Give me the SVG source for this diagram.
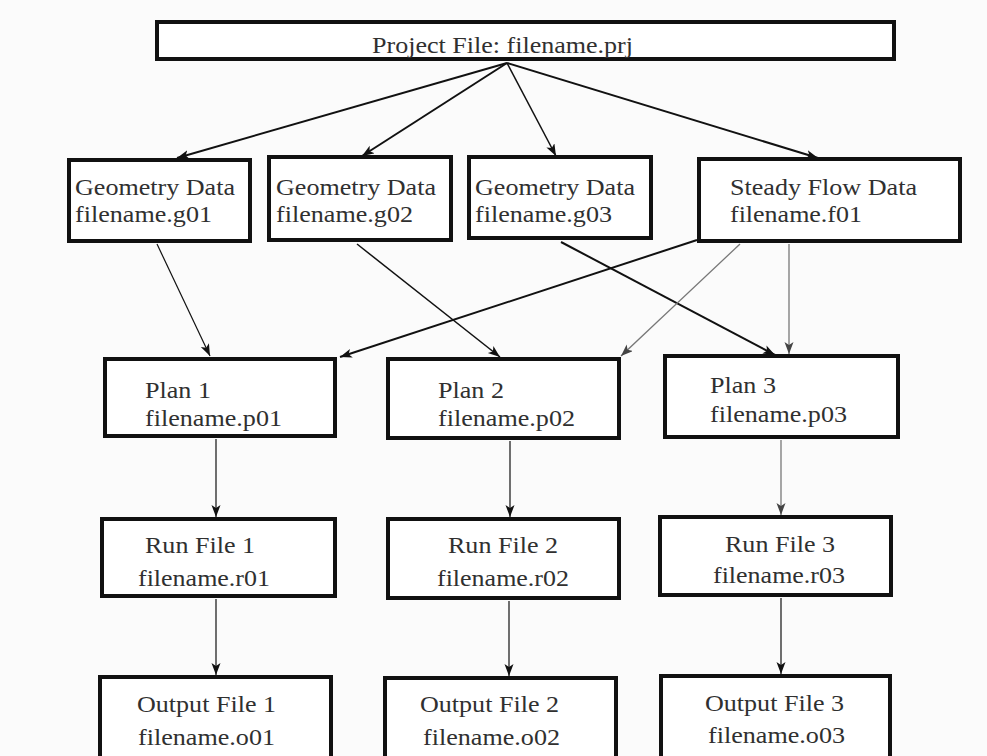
<svg xmlns="http://www.w3.org/2000/svg" width="987" height="756" viewBox="0 0 987 756">
<style>
.box{fill:#ffffff;stroke:#111;stroke-width:4}
.t{font-family:"Liberation Serif","Times New Roman",serif;font-size:23px;fill:#303030}
.c{fill:none;stroke:#111}
.th{stroke-width:2}
.md{stroke-width:1.5}
.tn{stroke-width:1.2}
.gr{stroke:#777;stroke-width:1.3}
</style>
<defs>
<marker id="ah" markerUnits="userSpaceOnUse" markerWidth="14" markerHeight="10" refX="12" refY="4.5" orient="auto">
<path d="M0,0 L12,4.5 L0,9 L3,4.5 z" fill="#111"/>
</marker>
<marker id="ahg" markerUnits="userSpaceOnUse" markerWidth="14" markerHeight="10" refX="12" refY="4.5" orient="auto">
<path d="M0,0 L12,4.5 L0,9 L3,4.5 z" fill="#444"/>
</marker>
</defs>
<rect x="0" y="0" width="987" height="756" fill="#fbfbfb"/>
<g id="connectors">
<line class="c th" x1="507" y1="63" x2="177" y2="158" marker-end="url(#ah)"/>
<line class="c th" x1="507" y1="63" x2="362" y2="156" marker-end="url(#ah)"/>
<line class="c md" x1="507" y1="63" x2="556" y2="156" marker-end="url(#ah)"/>
<line class="c th" x1="507" y1="63" x2="818" y2="158" marker-end="url(#ah)"/>
<line class="c tn" x1="157" y1="244" x2="210" y2="356" marker-end="url(#ah)"/>
<line class="c md" x1="357" y1="244" x2="500" y2="357" marker-end="url(#ah)"/>
<line class="c th" x1="561" y1="242" x2="775" y2="355" marker-end="url(#ah)"/>
<line class="c th" x1="697" y1="240" x2="340" y2="357" marker-end="url(#ah)"/>
<line class="c gr" x1="740" y1="244" x2="621" y2="356" marker-end="url(#ahg)"/>
<line class="c gr" x1="789" y1="244" x2="789" y2="354" marker-end="url(#ahg)"/>
<line class="c tn" x1="216" y1="439" x2="216" y2="517" marker-end="url(#ah)"/>
<line class="c tn" x1="510" y1="441" x2="510" y2="517" marker-end="url(#ah)"/>
<line class="c gr" x1="781" y1="440" x2="781" y2="515" marker-end="url(#ahg)"/>
<line class="c tn" x1="216" y1="599" x2="216" y2="675" marker-end="url(#ah)"/>
<line class="c tn" x1="509" y1="601" x2="509" y2="676" marker-end="url(#ah)"/>
<line class="c tn" x1="781" y1="598" x2="781" y2="674" marker-end="url(#ah)"/>
</g>
<g id="project">
<rect class="box" x="157" y="22" width="737" height="37"/>
<text class="t" x="372" y="53" textLength="261" lengthAdjust="spacingAndGlyphs">Project File: filename.prj</text>
</g>
<g id="geom1">
<rect class="box" x="69" y="160" width="181" height="81"/>
<text class="t" x="75" y="195" textLength="160" lengthAdjust="spacingAndGlyphs">Geometry Data</text>
<text class="t" x="75" y="222" textLength="137" lengthAdjust="spacingAndGlyphs">filename.g01</text>
</g>
<g id="geom2">
<rect class="box" x="269" y="157" width="182" height="83"/>
<text class="t" x="276" y="195" textLength="160" lengthAdjust="spacingAndGlyphs">Geometry Data</text>
<text class="t" x="276" y="222" textLength="137" lengthAdjust="spacingAndGlyphs">filename.g02</text>
</g>
<g id="geom3">
<rect class="box" x="469" y="157" width="182" height="81"/>
<text class="t" x="475" y="195" textLength="160" lengthAdjust="spacingAndGlyphs">Geometry Data</text>
<text class="t" x="475" y="222" textLength="137" lengthAdjust="spacingAndGlyphs">filename.g03</text>
</g>
<g id="flow">
<rect class="box" x="699" y="159" width="261" height="82"/>
<text class="t" x="730" y="195" textLength="187" lengthAdjust="spacingAndGlyphs">Steady Flow Data</text>
<text class="t" x="730" y="222" textLength="132" lengthAdjust="spacingAndGlyphs">filename.f01</text>
</g>
<g id="plan1">
<rect class="box" x="105" y="359" width="230" height="77"/>
<text class="t" x="145" y="398" textLength="66" lengthAdjust="spacingAndGlyphs">Plan 1</text>
<text class="t" x="145" y="426" textLength="137" lengthAdjust="spacingAndGlyphs">filename.p01</text>
</g>
<g id="plan2">
<rect class="box" x="388" y="359" width="231" height="79"/>
<text class="t" x="438" y="398" textLength="66" lengthAdjust="spacingAndGlyphs">Plan 2</text>
<text class="t" x="438" y="426" textLength="137" lengthAdjust="spacingAndGlyphs">filename.p02</text>
</g>
<g id="plan3">
<rect class="box" x="665" y="356" width="233" height="81"/>
<text class="t" x="710" y="393" textLength="66" lengthAdjust="spacingAndGlyphs">Plan 3</text>
<text class="t" x="710" y="422" textLength="137" lengthAdjust="spacingAndGlyphs">filename.p03</text>
</g>
<g id="run1">
<rect class="box" x="102" y="519" width="233" height="77"/>
<text class="t" x="145" y="553" textLength="110" lengthAdjust="spacingAndGlyphs">Run File 1</text>
<text class="t" x="138" y="586" textLength="132" lengthAdjust="spacingAndGlyphs">filename.r01</text>
</g>
<g id="run2">
<rect class="box" x="388" y="519" width="231" height="79"/>
<text class="t" x="448" y="553" textLength="110" lengthAdjust="spacingAndGlyphs">Run File 2</text>
<text class="t" x="437" y="586" textLength="132" lengthAdjust="spacingAndGlyphs">filename.r02</text>
</g>
<g id="run3">
<rect class="box" x="660" y="517" width="231" height="78"/>
<text class="t" x="725" y="552" textLength="110" lengthAdjust="spacingAndGlyphs">Run File 3</text>
<text class="t" x="713" y="583" textLength="132" lengthAdjust="spacingAndGlyphs">filename.r03</text>
</g>
<g id="out1">
<rect class="box" x="100" y="677" width="231" height="100"/>
<text class="t" x="137" y="712" textLength="139" lengthAdjust="spacingAndGlyphs">Output File 1</text>
<text class="t" x="138" y="745" textLength="137" lengthAdjust="spacingAndGlyphs">filename.o01</text>
</g>
<g id="out2">
<rect class="box" x="385" y="678" width="231" height="100"/>
<text class="t" x="420" y="712" textLength="139" lengthAdjust="spacingAndGlyphs">Output File 2</text>
<text class="t" x="423" y="745" textLength="137" lengthAdjust="spacingAndGlyphs">filename.o02</text>
</g>
<g id="out3">
<rect class="box" x="661" y="676" width="229" height="100"/>
<text class="t" x="705" y="711" textLength="139" lengthAdjust="spacingAndGlyphs">Output File 3</text>
<text class="t" x="708" y="743" textLength="137" lengthAdjust="spacingAndGlyphs">filename.o03</text>
</g>
</svg>
